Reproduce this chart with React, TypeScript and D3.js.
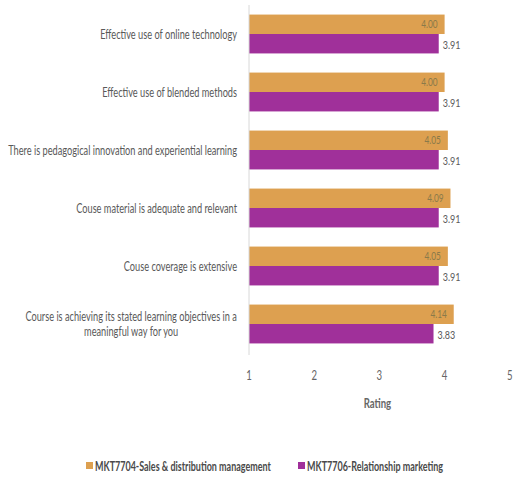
import React, { useEffect, useRef } from "react";
import * as d3 from "d3";

const categories: string[][] = [
  ["Effective use of online technology"],
  ["Effective use of blended methods"],
  ["There is pedagogical innovation and experiential learning"],
  ["Couse material is adequate and relevant"],
  ["Couse coverage is extensive"],
  ["Course is achieving its stated learning objectives in a", "meaningful way for you"],
];
const seriesNames = ["MKT7704-Sales & distribution management", "MKT7706-Relationship marketing"];
const salesValues = [4.0, 4.0, 4.05, 4.09, 4.05, 4.14];
const relValues = [3.91, 3.91, 3.91, 3.91, 3.91, 3.83];
const xTicks = [1, 2, 3, 4, 5];
const colors = ["#DDA050", "#A0309A"];

const W = 515;
const H = 478;
const FONT = "Lato, 'Open Sans', 'Liberation Sans', sans-serif";

export default function App() {
  const ref = useRef<SVGSVGElement>(null);

  useEffect(() => {
    const svg = d3.select(ref.current);
    svg.selectAll("*").remove();
    const g = svg.append("g");

    // helper for condensed (Calibri-like) text
    const measure = (str: string, size: number, weight = "normal") => {
      const t = g
        .append("text")
        .attr("font-family", FONT)
        .attr("font-size", size)
        .attr("font-weight", weight)
        .text(str);
      const w = (t.node() as SVGTextElement).getComputedTextLength();
      t.remove();
      return w;
    };
    const addText = (
      str: string,
      x: number,
      y: number,
      size: number,
      k: number,
      anchor: string,
      fill: string,
      weight = "normal"
    ) =>
      g
        .append("text")
        .attr("transform", `translate(${x},${y}) scale(${k},1)`)
        .attr("text-anchor", anchor)
        .attr("font-family", FONT)
        .attr("font-size", size)
        .attr("font-weight", weight)
        .attr("fill", fill)
        .text(str);

    const left = 249;
    const top = 5;
    const plotBottom = 353;
    const x = d3.scaleLinear().domain([1, 5]).range([left, left + 4 * 65.2]);
    const y = d3
      .scaleBand<number>()
      .domain(categories.map((_, i) => i))
      .range([top, plotBottom])
      .paddingInner(0.33)
      .paddingOuter(0.165);
    const sub = d3.scaleBand<number>().domain([0, 1]).range([0, y.bandwidth()]);

    const data = [salesValues, relValues];
    data.forEach((vals, s) => {
      g.selectAll(`rect.s${s}`)
        .data(vals)
        .enter()
        .append("rect")
        .attr("x", x(1))
        .attr("y", (_, i) => (y(i) as number) + (sub(s) as number))
        .attr("width", (v) => x(v) - x(1))
        .attr("height", sub.bandwidth())
        .attr("fill", colors[s]);
    });

    // axis line
    g.append("line")
      .attr("x1", x(1))
      .attr("x2", x(1))
      .attr("y1", top)
      .attr("y2", plotBottom + 2)
      .attr("stroke", "#d8d8d8")
      .attr("stroke-width", 1);

    const kNum = 0.75;
    // data labels
    salesValues.forEach((v, i) => {
      addText(
        v.toFixed(2),
        x(v) - 7,
        (y(i) as number) + (sub(0) as number) + sub.bandwidth() / 2 + 4,
        11,
        kNum,
        "end",
        "#8a7a4a"
      );
    });
    relValues.forEach((v, i) => {
      addText(
        v.toFixed(2),
        x(v) + 4,
        (y(i) as number) + (sub(1) as number) + sub.bandwidth() / 2 + 5,
        12,
        kNum,
        "start",
        "#595959"
      );
    });

    // category labels
    const labelRight = 237;
    const catSize = 12.5;
    const kCat = 137 / measure(categories[0][0], catSize);
    categories.forEach((lines, i) => {
      const cy = (y(i) as number) + y.bandwidth() / 2;
      const lh = 15.2;
      const widths = lines.map((ln) => measure(ln, catSize) * kCat);
      const maxW = Math.max(...widths);
      lines.forEach((ln, j) => {
        const ly = cy + 4.5 + (j - (lines.length - 1) / 2) * lh;
        if (lines.length === 1) {
          addText(ln, labelRight, ly, catSize, kCat, "end", "#595959");
        } else {
          addText(ln, labelRight - maxW / 2, ly, catSize, kCat, "middle", "#595959");
        }
      });
    });

    // x ticks
    xTicks.forEach((d) => {
      addText(String(d), x(d), 380, 13, kCat, "middle", "#666");
    });
    addText("Rating", (x(1) + x(5)) / 2 - 2, 408, 13, kCat, "middle", "#666", "bold");

    // legend
    const legendY = 466;
    const legendX = [86, 298];
    const legSize = 12.5;
    const kLeg = 176 / measure(seriesNames[0], legSize, "bold");
    seriesNames.forEach((name, s) => {
      g.append("rect")
        .attr("x", legendX[s])
        .attr("y", legendY - 4)
        .attr("width", 7)
        .attr("height", 7)
        .attr("fill", colors[s]);
      addText(name, legendX[s] + 9, legendY + 4.5, legSize, kLeg, "start", "#4a4a4a", "bold");
    });
  }, []);

  return (
    <svg
      ref={ref}
      width={W}
      height={H}
      style={{ position: "absolute", left: 0, top: 0, background: "#fff" }}
    />
  );
}
